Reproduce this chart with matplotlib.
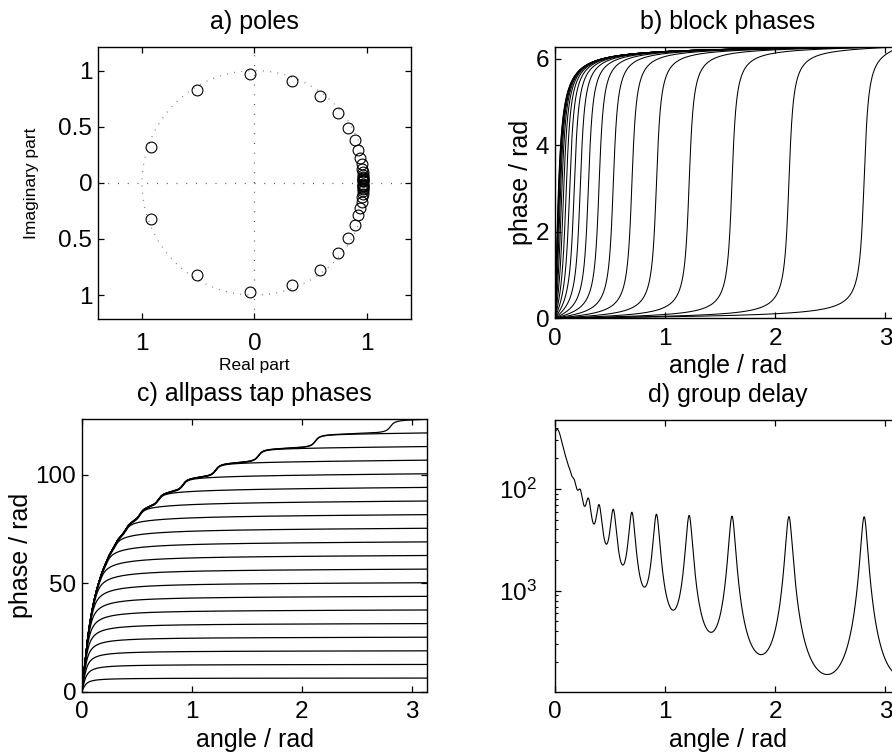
import numpy as np
import matplotlib
matplotlib.use('Agg')
import matplotlib.pyplot as plt
from matplotlib.ticker import FixedLocator, FixedFormatter, LogLocator, NullFormatter

plt.rcParams['font.family'] = ['Liberation Sans', 'DejaVu Sans']
plt.rcParams['mathtext.fontset'] = 'custom'
plt.rcParams['mathtext.rm'] = 'Liberation Sans'
plt.rcParams['mathtext.default'] = 'rm'

pole_angle = [0.0142, 0.0188, 0.0248, 0.0328, 0.0433, 0.0572, 0.0755, 0.100,
              0.132, 0.174, 0.229, 0.303, 0.400, 0.529, 0.698, 0.921,
              1.218, 1.607, 2.124, 2.807]
pole_radius = [0.970, 0.970, 0.970, 0.970, 0.970, 0.970, 0.970, 0.970,
               0.970, 0.970, 0.970, 0.970, 0.970, 0.970, 0.970, 0.970,
               0.970, 0.970, 0.970, 0.970]
fs = 12500  # group delay shown in seconds

# Tick labels as printed (minus signs lost in the original)
a_xticks = [-1, 0, 1]
a_xticklabels = ['1', '0', '1']
a_yticks = [-1, -0.5, 0, 0.5, 1]
a_yticklabels = ['1', '0.5', '0', '0.5', '1']
b_yticks = [0, 2, 4, 6]
c_yticks = [0, 50, 100]
angle_ticks = [0, 1, 2, 3]
d_yticks = [1e-3, 1e-2]
d_yticklabels = ['10$^3$', '10$^2$']

w = np.linspace(0, np.pi, 6000)
th = np.array(pole_angle)[:, None]
r = np.array(pole_radius)[:, None]

block_phase = (2 * w
               + 2 * np.arctan2(r * np.sin(w - th), 1 - r * np.cos(w - th))
               + 2 * np.arctan2(r * np.sin(w + th), 1 - r * np.cos(w + th)))
tap_phase = np.cumsum(block_phase, axis=0)
gd = np.sum((1 - r**2) / (1 - 2 * r * np.cos(w - th) + r**2)
            + (1 - r**2) / (1 - 2 * r * np.cos(w + th) + r**2), axis=0) / fs

W, H = 892, 756
fig = plt.figure(figsize=(W / 100, H / 100), dpi=100)


def box(l, t, rgt, b):
    return [l / W, 1 - b / H, (rgt - l) / W, (b - t) / H]


big = 17.5
small = 12.5


def style(ax, xpad=7, ypad=4):
    ax.tick_params(direction='in', top=True, right=True, length=4.5, width=0.9,
                   labelsize=big, color='black')
    ax.tick_params(axis='x', pad=xpad)
    ax.tick_params(axis='y', pad=ypad)
    ax.tick_params(which='minor', direction='in', right=True, length=2.5, width=0.8)
    for s in ax.spines.values():
        s.set_linewidth(1.0)


# a) poles
ax = fig.add_axes(box(97.7, 46.7, 411, 319))
t = np.linspace(0, 2 * np.pi, 400)
ax.plot(np.cos(t), np.sin(t), color='0.5', lw=0.9, ls=(0, (0.8, 5)))
ax.axhline(0, color='0.35', lw=0.9, ls=(0, (0.8, 7)))
ax.axvline(0, color='0.35', lw=0.9, ls=(0, (0.8, 7)))
pa = np.array(pole_angle)
pr = np.array(pole_radius)
ax.plot(np.concatenate([pr * np.cos(pa), pr * np.cos(pa)]),
        np.concatenate([pr * np.sin(pa), -pr * np.sin(pa)]),
        'o', mfc='none', mec='black', ms=7.8, mew=0.8)
ax.set_xlim(-1.395, 1.395)
ax.set_ylim(-1.213, 1.213)
ax.set_xticks(a_xticks)
ax.set_xticklabels(a_xticklabels)
ax.set_yticks(a_yticks)
ax.set_yticklabels(a_yticklabels)
style(ax, xpad=10, ypad=4)
ax.set_xlabel('Real part', fontsize=small, labelpad=2)
ax.set_ylabel('Imaginary part', fontsize=small, labelpad=14)
ax.set_title('a) poles', fontsize=18, pad=13)

# b) block phases
ax = fig.add_axes(box(555, 46.7, 901, 318.3))
for ph in block_phase:
    ax.plot(w, ph, color='black', lw=0.75)
ax.set_xlim(0, np.pi)
ax.set_ylim(0, 2 * np.pi)
ax.set_xticks(angle_ticks)
ax.set_yticks(b_yticks)
style(ax)
ax.set_xlabel('angle / rad', fontsize=18, labelpad=3)
ax.set_ylabel('phase / rad', fontsize=18, labelpad=2)
ax.set_title('b) block phases', fontsize=18, pad=13)

# c) allpass tap phases
ax = fig.add_axes(box(81.7, 419.3, 427.3, 691.7))
for ph in tap_phase:
    ax.plot(w, ph, color='black', lw=0.9)
ax.set_xlim(0, np.pi)
ax.set_ylim(0, 40 * np.pi)
ax.set_xticks(angle_ticks)
ax.set_yticks(c_yticks)
style(ax)
ax.set_xlabel('angle / rad', fontsize=18, labelpad=3)
ax.set_ylabel('phase / rad', fontsize=18, labelpad=2)
ax.set_title('c) allpass tap phases', fontsize=18, pad=13)

# d) group delay
ax = fig.add_axes(box(555, 420, 901, 691.7))
ax.semilogy(w, gd, color='black', lw=0.8)
ax.set_xlim(0, np.pi)
ax.set_ylim(1.02e-4, 0.0475)
ax.set_xticks(angle_ticks)
ax.yaxis.set_major_locator(FixedLocator(d_yticks))
ax.yaxis.set_major_formatter(FixedFormatter(d_yticklabels))
ax.yaxis.set_minor_locator(LogLocator(base=10, subs=np.arange(2, 10)))
ax.yaxis.set_minor_formatter(NullFormatter())
style(ax, ypad=13)
ax.set_xlabel('angle / rad', fontsize=18, labelpad=3)
ax.set_title('d) group delay', fontsize=18, pad=13)

fig.savefig('out.png', dpi=100)
